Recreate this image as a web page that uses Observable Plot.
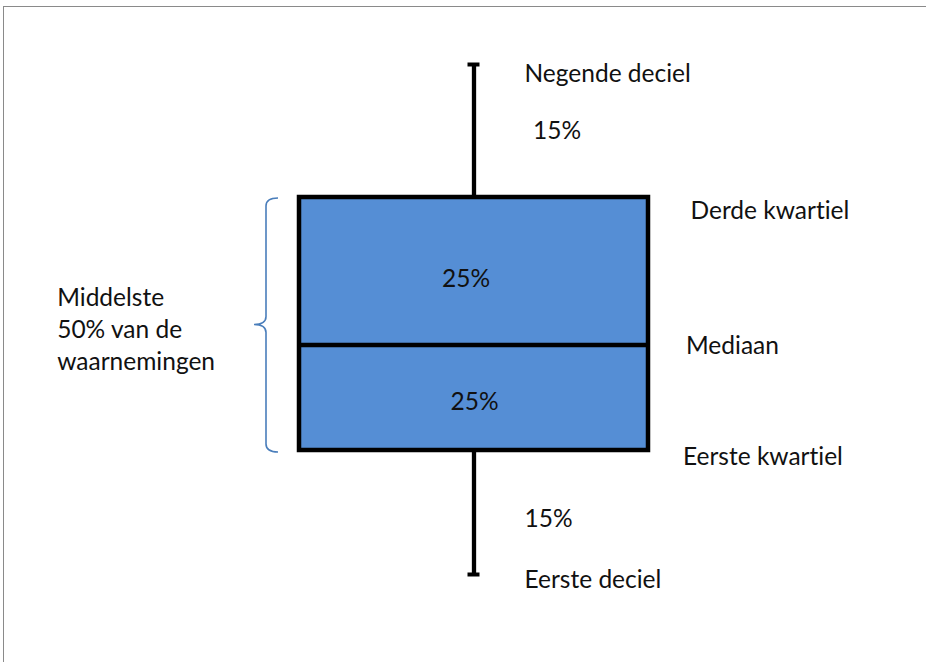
<!DOCTYPE html>
<html>
<head>
<meta charset="utf-8">
<script src="https://cdn.jsdelivr.net/npm/d3@7"></script>
<script src="https://cdn.jsdelivr.net/npm/@observablehq/plot@0.6"></script>
<style>
  html, body { margin: 0; padding: 0; background: #fff; overflow: hidden; }
  #wrap { position: relative; width: 926px; height: 662px; }
  #chart { position: absolute; left: 0; top: 0; }
  #chart text { font-variant-ligatures: none; font-feature-settings: "liga" 0, "clig" 0; }
  #border { position: absolute; left: 2.5px; top: 5.5px; width: 1000px; height: 1000px;
            border: 1.6px solid #8a8a8a; pointer-events: none; }
</style>
</head>
<body>
<div id="wrap"><div id="chart"></div><div id="border"></div></div>
<script>
// Statistics of the schematic box plot (arbitrary measurement units)
const stats = ["Eerste deciel", "Eerste kwartiel", "Mediaan", "Derde kwartiel", "Negende deciel"];
const statValues = [0, 24.8, 45.9, 75.4, 102];
// Share of observations between consecutive statistics (bottom to top)
const shares = ["15%", "25%", "25%", "15%"];
const braceText = ["Middelste", "50% van de", "waarnemingen"];

const [p10, q1, med, q3, p90] = statValues;
const box = [{cat: "box", p10, q1, med, q3, p90}];

// layout (label offsets in px, relative to box centre / value)
const statOffsets = [[50.5, 13], [209, 14.3], [212, 9], [216.5, 21.3], [50.5, 17]];
const shareLayout = [
  {dx: 50.5, dy: 14.7, anchor: "start"},
  {dx: 0.5, dy: 12.3, anchor: "middle"},
  {dx: -8, dy: 16.2, anchor: "middle"},
  {dx: 59, dy: 7.8, anchor: "start"}
];

const font = "Lato, 'Open Sans', sans-serif";
const fs = 24.5;
const ink = "#111";

const marks = [];
// whisker
marks.push(Plot.ruleX(box, {x: "cat", y1: "p10", y2: "p90", stroke: "#000", strokeWidth: 4.3}));
// caps
marks.push(Plot.tickY(box, {x: "cat", y: "p90", stroke: "#000", strokeWidth: 4, insetLeft: 168.5, insetRight: 168.5}));
marks.push(Plot.tickY(box, {x: "cat", y: "p10", stroke: "#000", strokeWidth: 4, insetLeft: 168.5, insetRight: 168.5}));
// box
marks.push(Plot.barY(box, {x: "cat", y1: "q1", y2: "q3", fill: "#558ED5", stroke: "#000", strokeWidth: 4.5}));
// median
marks.push(Plot.tickY(box, {x: "cat", y: "med", stroke: "#000", strokeWidth: 4.5}));

// brace (drawn through the scales)
marks.push((index, scales, values, dimensions) => {
  const x0 = scales.x("box");
  const yt = scales.y(q3) + 1, yb = scales.y(q1) + 2, ym = scales.y((q1 + q3) / 2) + 1;
  const xe = x0 - 21, xv = x0 - 33, xt = x0 - 45, r = 8;
  const d = `M${xe},${yt} Q${xv},${yt} ${xv},${yt + r} L${xv},${ym - r} Q${xv},${ym} ${xt},${ym}` +
            ` Q${xv},${ym} ${xv},${ym + r} L${xv},${yb - r} Q${xv},${yb} ${xe},${yb}`;
  const p = document.createElementNS("http://www.w3.org/2000/svg", "path");
  p.setAttribute("d", d);
  p.setAttribute("fill", "none");
  p.setAttribute("stroke", "#4A7EBB");
  p.setAttribute("stroke-width", 1.6);
  return p;
});

// stat labels
stats.forEach((s, i) => {
  marks.push(Plot.text([s], {x: () => "box", y: () => statValues[i], text: d => d,
    textAnchor: "start", lineAnchor: "bottom", dx: statOffsets[i][0], dy: statOffsets[i][1],
    fontSize: fs, fontFamily: font, fill: ink}));
});
// share labels
shares.forEach((s, i) => {
  const L = shareLayout[i];
  marks.push(Plot.text([s], {x: () => "box", y: () => (statValues[i] + statValues[i + 1]) / 2, text: d => d,
    textAnchor: L.anchor, lineAnchor: "bottom", dx: L.dx, dy: L.dy,
    fontSize: fs, fontFamily: font, fill: ink}));
});
// brace label
marks.push(Plot.text([braceText.join("\n")], {x: () => "box", y: () => (q1 + q3) / 2, text: d => d,
  textAnchor: "start", lineAnchor: "bottom", dx: -416.8, dy: 45.8, lineHeight: 32 / fs,
  fontSize: fs, fontFamily: font, fill: ink}));

const chart = Plot.plot({
  width: 926,
  height: 662,
  marginLeft: 299,
  marginRight: 278,
  marginTop: 64,
  marginBottom: 88,
  x: {type: "band", domain: ["box"], padding: 0, axis: null},
  y: {domain: [p10, p90], axis: null},
  style: {background: "transparent", overflow: "visible"},
  marks
});
document.getElementById("chart").appendChild(chart);
</script>
</body>
</html>
